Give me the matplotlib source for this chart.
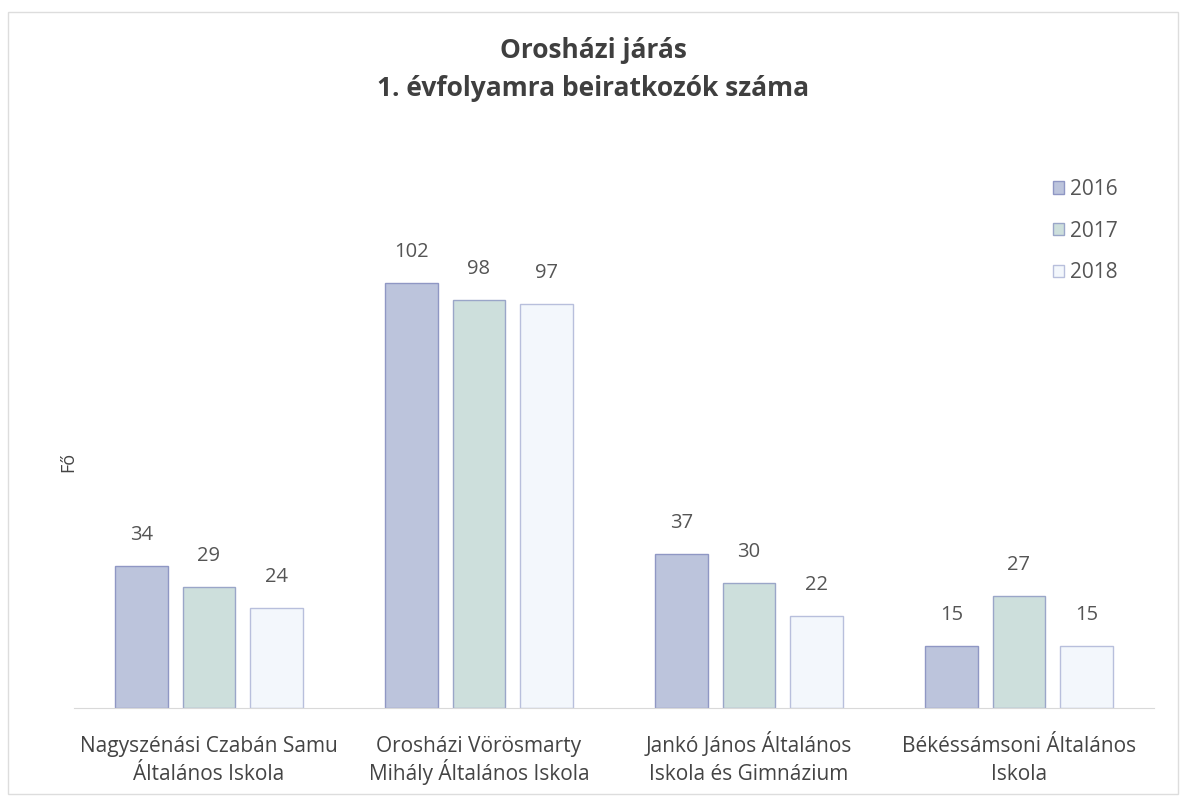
import matplotlib
matplotlib.use("Agg")
import matplotlib.pyplot as plt
import matplotlib.transforms as mtransforms
import numpy as np
from matplotlib.patches import Rectangle

plt.rcParams['font.family'] = ['Open Sans', 'DejaVu Sans']

categories = ["Nagyszénási Czabán Samu\nÁltalános Iskola",
              "Orosházi Vörösmarty\nMihály Általános Iskola",
              "Jankó János Általános\nIskola és Gimnázium",
              "Békéssámsoni Általános\nIskola"]
years = ["2016", "2017", "2018"]
v2016 = [34, 102, 37, 15]
v2017 = [29, 98, 30, 27]
v2018 = [24, 97, 22, 15]
series = [v2016, v2017, v2018]

faces = ["#bcc4dc", "#cddfdc", "#f3f7fc"]
edges = ["#8f97c4", "#9aa6c8", "#b8bfdc"]

W, H = 1186, 796
fig = plt.figure(figsize=(W/100, H/100), dpi=100)
ax = fig.add_axes([74/W, 1-708/H, (1154-74)/W, (708-208)/H])

x = np.arange(len(categories))
bw = 0.196
step = 0.25
for i, (vals, fc, ec) in enumerate(zip(series, faces, edges)):
    pos = x + (i-1)*step
    ax.bar(pos, vals, width=bw, color=fc, edgecolor=ec, linewidth=1.0, label=years[i])
    for p, v in zip(pos, vals):
        ax.text(p, v + 5, str(v), ha='center', va='bottom', fontsize=14.5, color='#555555')

ax.set_xlim(-0.5, 3.5)
ax.set_ylim(0, 120)
ax.set_xticks([])
ax.set_yticks([])
for s in ['top', 'right', 'left']:
    ax.spines[s].set_visible(False)
ax.spines['bottom'].set_color('#d9d9d9')

trans = mtransforms.blended_transform_factory(ax.transData, fig.transFigure)
for xi, lab in zip(x, categories):
    for j, line in enumerate(lab.split("\n")):
        ax.text(xi, 1 - (752 + 28*j)/H, line, transform=trans, ha='center', va='baseline',
                fontsize=15, color='#444444')

fig.text(68/W, 1-462/H, "Fő", rotation=90, ha='center', va='center', fontsize=13, color='#444444')
fig.text(593/W, 1-50/H, "Orosházi járás", ha='center', va='center', fontsize=19, fontweight='bold', color='#3f3f3f')
fig.text(593/W, 1-88/H, "1. évfolyamra beiratkozók száma", ha='center', va='center', fontsize=19, fontweight='bold', color='#3f3f3f')

leg = ax.legend(loc='upper left', bbox_to_anchor=(1034/W, 1-160/H), bbox_transform=fig.transFigure,
                frameon=False, fontsize=15, labelcolor='#555555', handlelength=0.55, handleheight=0.55,
                handletextpad=0.3, labelspacing=1.0)

fig.patches.append(Rectangle((8/W, 0.003), (1178-8)/W, 1-14/H, transform=fig.transFigure,
                             fill=False, edgecolor='#dddddd', linewidth=1))

fig.savefig("out.png", dpi=100, facecolor='white')
